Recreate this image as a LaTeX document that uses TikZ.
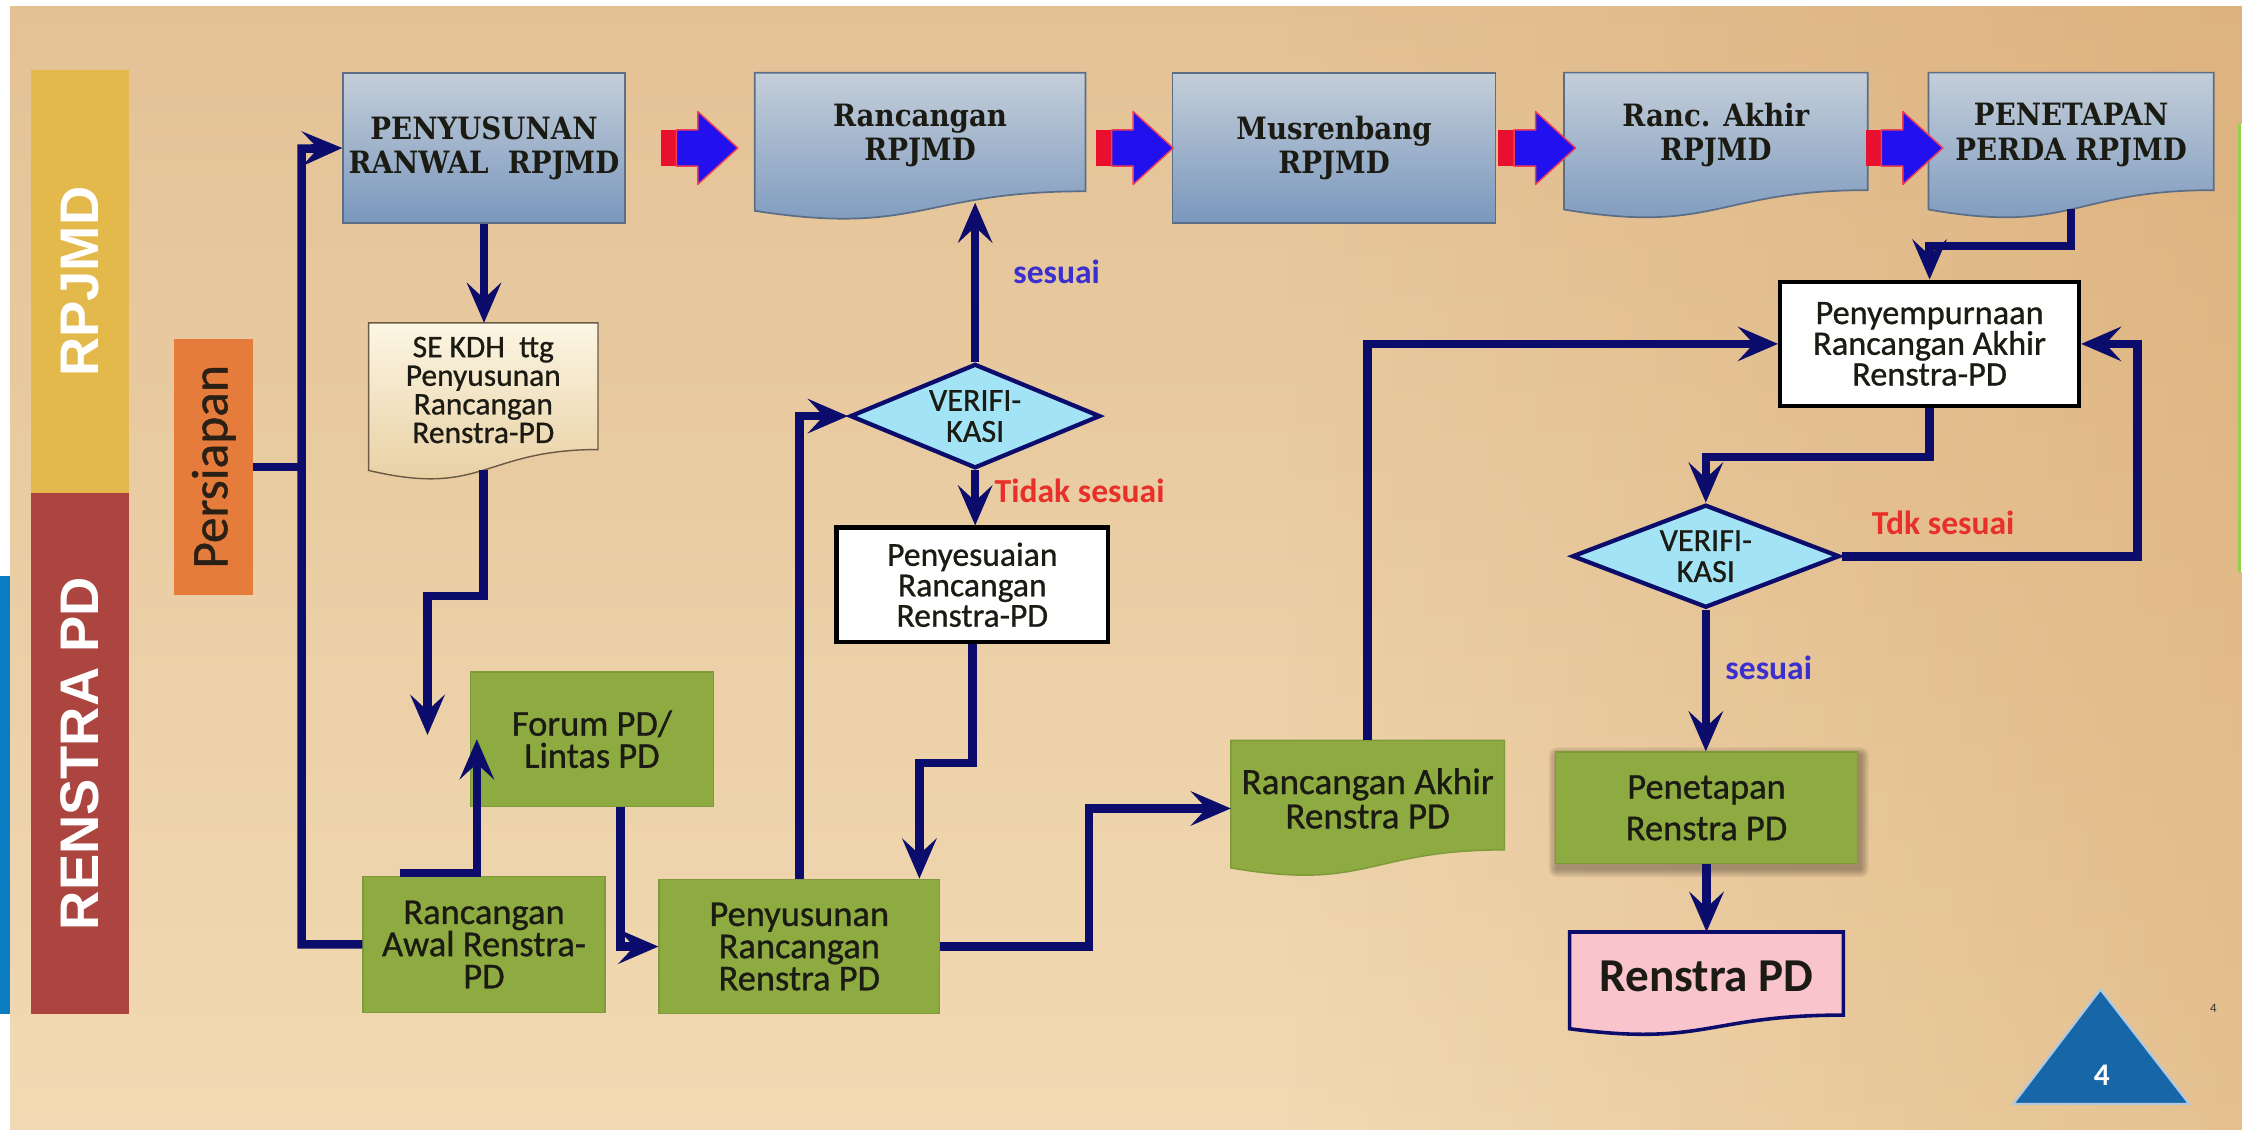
\documentclass[tikz,border=0pt]{standalone}
\usepackage{graphicx}
\usepackage{fontspec}
\setmainfont{Carlito}
\newfontfamily\carlito{Carlito}
\newfontfamily\carlitoH[FakeBold=0.8]{Carlito}
\newfontfamily\topfont[FakeStretch=0.9]{DejaVu Serif}
\newfontfamily\bandfont{Liberation Sans}
\usetikzlibrary{arrows.meta,calc,shapes.geometric,fadings}

\definecolor{navy}{HTML}{0C0C6C}
\definecolor{bgT}{HTML}{E4C195}
\definecolor{bgB}{HTML}{F1DAB3}
\definecolor{bgR}{HTML}{D49E5E}
\definecolor{gold}{HTML}{E4B94C}
\definecolor{brick}{HTML}{AC4440}
\definecolor{orng}{HTML}{E67C3B}
\definecolor{grn}{HTML}{8DAB40}
\definecolor{grnE}{HTML}{7E9A3A}
\definecolor{topA}{HTML}{C4CED9}
\definecolor{topB}{HTML}{7997BD}
\definecolor{topE}{HTML}{5C6E86}
\definecolor{cyanF}{HTML}{A2E3F6}
\definecolor{lblB}{HTML}{3C2FD0}
\definecolor{lblR}{HTML}{E8302A}
\definecolor{pinkF}{HTML}{FAC4CD}
\definecolor{seA}{HTML}{FCF6E4}
\definecolor{seB}{HTML}{E6CC9C}
\definecolor{seE}{HTML}{6B5B45}
\definecolor{txtD}{HTML}{1B1B14}
\definecolor{persT}{HTML}{2A2015}
\definecolor{triB}{HTML}{1766A8}
\definecolor{stripB}{HTML}{0A7CC1}
\definecolor{arrR}{HTML}{E8102E}
\definecolor{arrB}{HTML}{2210EE}
\definecolor{rgreen}{HTML}{92D050}

\pgfdeclarelayer{back}
\pgfdeclarelayer{mid}
\pgfsetlayers{back,mid,main}

\tikzfading[name=fadeR, left color=transparent!100, right color=transparent!0]

% document shape behind a node whose box is the flat upper 85% of the shape
\newcommand{\docpath}[2]{%
  \path[#1] let \p1=(#2.north west), \p2=(#2.south east), \n1={(\y1-\y2)/0.85} in
  (\x1,\y1) -- (\x2,\y1) -- (\x2,{\y1-0.802*\n1})
  .. controls ({(\x1+\x2)/2},{\y1-0.802*\n1}) and ({(\x1+\x2)/2},{\y1-1.1075*\n1}) ..
  (\x1,{\y1-0.934*\n1}) -- cycle;}

\newcommand{\fatarr}[1]{%
  \begin{scope}[shift={#1}]
    \fill[arrR] (-27,-12.7) rectangle (-14,12.7);
    \filldraw[fill=arrB,draw=arrR!80,line width=1pt,line join=round]
      (-16,-12.7) -- (-1,-12.7) -- (-1,-25.5) -- (27,0) -- (-1,25.5) -- (-1,12.7) -- (-16,12.7) -- cycle;
  \end{scope}}

\begin{document}
\begin{tikzpicture}[x=1pt,y=-1pt,
  conn/.style={draw=navy,line width=6pt,-{Stealth[length=28pt,width=24pt,inset=11pt]}},
  plainline/.style={draw=navy,line width=6pt},
  topfontstyle/.style={font=\topfont\bfseries\fontsize{21.5}{24}\selectfont},
  topbox/.style={rectangle,top color=topA,bottom color=topB,draw=topE,line width=1.2pt,
    inner sep=0pt,align=center,text=txtD,topfontstyle},
  toptext/.style={rectangle,inner sep=0pt,align=center,text=txtD,topfontstyle},
  topdoc/.style={top color=topA,bottom color=topB,draw=topE,line width=1.2pt},
  band/.style={rectangle,inner sep=0pt,text=white,font=\bandfont\bfseries\fontsize{38}{38}\selectfont},
  greenbox/.style={rectangle,fill=grn,draw=grnE,line width=1pt,inner sep=0pt,align=center,
    text=txtD,font=\carlitoH\fontsize{25.5}{22.5}\selectfont},
  greentext/.style={rectangle,inner sep=0pt,align=center,text=txtD,
    font=\carlitoH\fontsize{26}{24}\selectfont},
  greendoc/.style={fill=grn,draw=grnE,line width=1pt},
  whitebox/.style={rectangle,fill=white,draw=black,line width=3pt,inner sep=0pt,align=center,
    text=txtD,font=\carlitoH\fontsize{23.5}{21.3}\selectfont},
  decision/.style={diamond,aspect=2.4,fill=cyanF,draw=navy,line width=3pt,inner sep=0pt,
    align=center,text=txtD,font=\carlitoH\fontsize{22.5}{21.7}\selectfont},
  lbl/.style={inner sep=0pt,font=\carlito\bfseries\fontsize{23.5}{23.5}\selectfont}
]
\useasboundingbox (0,0) rectangle (1568,790);

% ---------------- background ----------------
\begin{pgfonlayer}{back}
  \shade[top color=bgT,bottom color=bgB] (0,0) rectangle (1568,790);
  \fill[bgR,fill opacity=0.42,path fading=fadeR] (900,0) rectangle (1568,790);
  \fill[white] (0,0) rectangle (1568,4);
  \fill[white] (0,0) rectangle (7,790);
  \fill[stripB] (0,403) rectangle (7,709);
  \fill[rgreen] (1565.5,87) rectangle (1567,400);
  \fill[white] (1567,87) rectangle (1568,400);
\end{pgfonlayer}

% ---------------- lanes ----------------
\node[band,fill=gold,minimum width=68pt,minimum height=296pt] (BR) at (56,197) {\rotatebox{90}{RPJMD}};
\node[band,fill=brick,minimum width=68pt,minimum height=364pt] (BS) at (56,527) {\rotatebox{90}{RENSTRA PD}};
\node[rectangle,fill=orng,inner sep=0pt,minimum width=55pt,minimum height=179pt,text=persT,
  font=\carlitoH\fontsize{36}{36}\selectfont] (PSP) at (149.5,326.5) {\rotatebox{90}{Persiapan}};

% ---------------- top row ----------------
\node[topbox,minimum width=197pt,minimum height=105pt] (PR) at (338.5,103.5) {PENYUSUNAN\\RANWAL~~RPJMD};
\node[toptext,minimum width=231pt,minimum height=87.5pt] (RR) at (643.5,94.8) {Rancangan\\RPJMD};
\node[topbox,minimum width=226pt,minimum height=105pt] (MR) at (933,103.5) {Musrenbang\\RPJMD};
\node[toptext,minimum width=212pt,minimum height=86.7pt] (RA2) at (1200,94.35) {Ranc. Akhir\\RPJMD};
\node[toptext,minimum width=199pt,minimum height=86.7pt] (PP) at (1448.5,94.35) {PENETAPAN\\PERDA RPJMD};

% ---------------- middle / bottom ----------------
\node[rectangle,inner sep=0pt,align=center,text=txtD,font=\carlitoH\fontsize{22}{20}\selectfont,
  minimum width=160pt,minimum height=93.5pt] (SE) at (338,272.75) {SE KDH~~ttg\\Penyusunan\\Rancangan\\Renstra-PD};
\node[greenbox,minimum width=170pt,minimum height=94pt] (FM) at (414,517) {Forum PD/\\Lintas PD};
\node[greenbox,minimum width=169pt,minimum height=95pt] (RA) at (338.5,660.5) {Rancangan\\Awal Renstra-\\PD};
\node[greenbox,minimum width=196pt,minimum height=94pt] (PRR) at (559,662) {Penyusunan\\Rancangan\\Renstra PD};
\node[decision,minimum width=175pt,minimum height=73pt] (D1) at (682,291) {VERIFI-\\KASI};
\node[whitebox,minimum width=190pt,minimum height=80pt] (PY) at (680,409) {Penyesuaian\\Rancangan\\Renstra-PD};
\node[greentext,minimum width=191pt,minimum height=80.75pt] (RAR) at (956.5,558.4) {Rancangan Akhir\\Renstra PD};
\node[whitebox,font=\carlitoH\fontsize{24}{21.5}\selectfont,minimum width=209pt,minimum height=87pt] (PS) at (1349.5,240.5) {Penyempurnaan\\Rancangan Akhir\\Renstra-PD};
\node[decision,minimum width=187pt,minimum height=72pt] (D2) at (1193,389) {VERIFI-\\KASI};
\node[greenbox,font=\carlitoH\fontsize{25.5}{29}\selectfont,
  minimum width=211pt,minimum height=78pt] (PRD) at (1193.5,565) {Penetapan\\Renstra PD};
\node[rectangle,inner sep=0pt,align=center,text=txtD,font=\carlito\bfseries\fontsize{33}{33}\selectfont,
  minimum width=191pt,minimum height=61.2pt] (RPD) at (1193.5,682.6) {Renstra PD};

% document shapes and soft shadow (drawn beneath the nodes)
\begin{pgfonlayer}{mid}
  \docpath{topdoc}{RR}
  \docpath{topdoc}{RA2}
  \docpath{topdoc}{PP}
  \docpath{top color=seA,bottom color=seB,draw=seE,line width=1pt}{SE}
  \docpath{greendoc}{RAR}
  \docpath{fill=pinkF,draw=navy,line width=2.5pt}{RPD}
  \foreach \d in {1,...,6}{
    \fill[black,opacity=0.055,rounded corners=\d pt]
      ($(PRD.north west)+({1.5-\d},{3-\d})$) rectangle ($(PRD.south east)+({1.5+\d},{3+\d})$);}
\end{pgfonlayer}

% ---------------- block arrows of the top row ----------------
\coordinate (a1) at ($(PR.east)!0.57!(RR.west)$);
\coordinate (a2) at ($(RR.east)!0.57!(MR.west)$);
\coordinate (a3) at ($(MR.east)!0.6!(RA2.west)$);
\coordinate (a4) at ($(RA2.east)!0.6!(PP.west)$);
\fatarr{(a1 |- PR.east)}
\fatarr{(a2 |- MR.west)}
\fatarr{(a3 |- MR.east)}
\fatarr{(a4 |- MR.east)}

% ---------------- connectors ----------------
\coordinate (vlt) at (211,104);
\coordinate (seend) at (299,514);
\draw[conn] (RA.west) -| (vlt) -- (PR.west);
\draw[plainline] (PSP.east) -- (PSP.east -| vlt);
\draw[conn] (PR.south) -- (PR.south |- SE.north);
\draw[conn] ($(SE.south)+(0,9)$) -- ++(0,88) -| (seend);
\draw[conn] ([xshift=26pt,yshift=2pt]RA.north west) -| ([xshift=5pt]FM.west);
\draw[conn] ([xshift=20pt]FM.south) |- (PRR.west);
\draw[conn] (PRR.north) |- (D1.west);
\draw[conn] (D1.north) -- ($(D1.north |- RR.south)+(0,3)$);
\draw[conn] (D1.south) -- (D1.south |- PY.north);
\draw[conn] (PY.south) -- ++(0,83) -| ([xshift=84pt]PRR.north);
\draw[conn] (PRR.east) -- ++(104,0) |- ($(RAR.west)+(0,7)$);
\draw[conn] (RAR.north) |- (PS.west);
\draw[conn] ($(PP.south)+(0,8)$) -- ++(0,26) -| (PS.north);
\draw[conn] (PS.south) -- ++(0,34) -| (D2.north);
\draw[conn] (D2.east) -- ++(207,0) |- (PS.east);
\draw[conn] (D2.south) -- (D2.south |- PRD.north);
\draw[conn] (PRD.south) -- (PRD.south |- RPD.north);

% ---------------- labels ----------------
\node[lbl,text=lblB] (L1) at (739,190) {sesuai};
\node[lbl,text=lblR] (L2) at (755,343) {Tidak sesuai};
\node[lbl,text=lblR] (L3) at (1359,366) {Tdk sesuai};
\node[lbl,text=lblB] (L4) at (1237,467) {sesuai};

% ---------------- page marker ----------------
\filldraw[fill=triB,draw=white!65!triB,line width=1.5pt] (1469,692) -- (1531,772) -- (1408,772) -- cycle;
\node[inner sep=0pt,text=white,font=\carlito\bfseries\fontsize{22}{22}\selectfont] (PG) at (1470,752) {4};
\node[inner sep=0pt,text=black!80,font=\carlito\fontsize{9}{9}\selectfont] (PGS) at (1548,705) {4};
\end{tikzpicture}
\end{document}
